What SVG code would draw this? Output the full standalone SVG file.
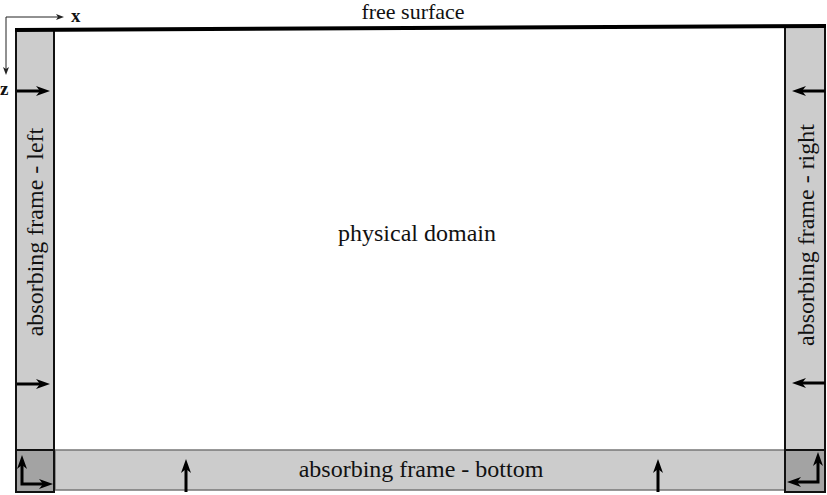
<svg xmlns="http://www.w3.org/2000/svg" width="827" height="495" viewBox="0 0 827 495">
<style>
.lbl{font-family:"Liberation Serif","Times New Roman",serif;font-size:24px;fill:#111;}
.top{font-family:"Liberation Serif","Times New Roman",serif;font-size:22px;fill:#111;}
.vlbl{font-family:"Liberation Serif","Times New Roman",serif;font-size:24px;fill:#111;}
.ax{font-family:"Liberation Serif","Times New Roman",serif;font-size:19px;font-weight:bold;fill:#111;}
.frame{fill:#cccccc;stroke:#111;stroke-width:2;}
.corner{fill:#a3a3a3;stroke:#111;stroke-width:2;}
.arr{stroke:#000;stroke-width:3;fill:none;}
.axl{stroke:#222;stroke-width:1;fill:none;}
</style>
<defs>
<marker id="ah" viewBox="0 0 14 10" refX="4" refY="5" markerWidth="14" markerHeight="10" markerUnits="userSpaceOnUse" orient="auto-start-reverse"><path d="M0,0 L14,5 L0,10 L4,5 z" fill="#000"/></marker>
<marker id="sh" viewBox="0 0 8 6" refX="2" refY="3" markerWidth="8" markerHeight="6" markerUnits="userSpaceOnUse" orient="auto"><path d="M0,0 L8,3 L0,6 L2,3 z" fill="#222"/></marker>
</defs>
<rect width="827" height="495" fill="#fff"/>
<g id="physical-domain">
<rect x="54" y="28" width="731" height="422" fill="#fff"/>
<text class="lbl" x="417" y="241" text-anchor="middle">physical domain</text>
</g>
<g id="frame-left">
<rect class="frame" x="16" y="29" width="38" height="463"/>
<text class="vlbl" transform="translate(43,232) rotate(-90)" text-anchor="middle">absorbing frame - left</text>
</g>
<g id="frame-right">
<rect class="frame" x="785" y="26" width="40" height="466"/>
<text class="vlbl" transform="translate(814,235) rotate(-90)" text-anchor="middle">absorbing frame - right</text>
</g>
<g id="frame-bottom">
<rect x="55" y="450" width="730" height="40" fill="#cccccc" stroke="#777" stroke-width="1.5"/>
<text class="lbl" x="421" y="477" text-anchor="middle">absorbing frame - bottom</text>
</g>
<g id="corner-left">
<rect class="corner" x="16" y="450" width="38" height="42"/>
</g>
<g id="corner-right">
<rect class="corner" x="785" y="450" width="40" height="42"/>
</g>
<g id="free-surface">
<line x1="15" y1="30" x2="826" y2="26" stroke="#000" stroke-width="4"/>
<text class="top" x="413" y="19" text-anchor="middle">free surface</text>
</g>
<g id="axes">
<path class="axl" d="M6,17 L58,17" marker-end="url(#sh)"/>
<path class="axl" d="M6,17 L6,69" marker-end="url(#sh)"/>
<text class="ax" x="71" y="22">x</text>
<text class="ax" x="0" y="95">z</text>
</g>
<g id="connectors">
<path class="arr" d="M17,91 L40,91" marker-end="url(#ah)"/>
<path class="arr" d="M17,384 L40,384" marker-end="url(#ah)"/>
<path class="arr" d="M825,91 L802,91" marker-end="url(#ah)"/>
<path class="arr" d="M825,383 L802,383" marker-end="url(#ah)"/>
<path class="arr" d="M186,492 L186,469" marker-end="url(#ah)"/>
<path class="arr" d="M658,492 L658,469" marker-end="url(#ah)"/>
<path class="arr" d="M22,465 L22,484 L43,484" marker-start="url(#ah)" marker-end="url(#ah)"/>
<path class="arr" d="M818,462 L818,482 L797,482" marker-start="url(#ah)" marker-end="url(#ah)"/>
</g>
</svg>
